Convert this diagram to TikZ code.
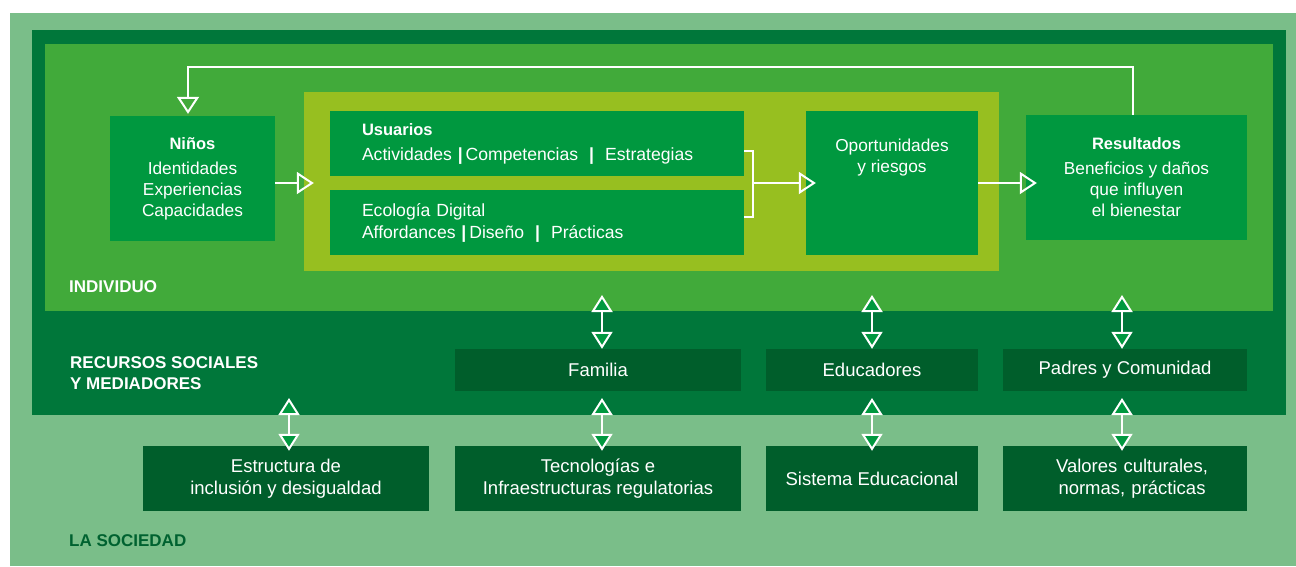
\documentclass[tikz,border=0pt]{standalone}
\usepackage{fontspec}
\setmainfont{Liberation Sans}
\usetikzlibrary{arrows.meta}
\definecolor{bgsoc}{HTML}{7ABE89}
\definecolor{dkgreen}{HTML}{00773A}
\definecolor{mdgreen}{HTML}{41AA3A}
\definecolor{ylgreen}{HTML}{97BF20}
\definecolor{boxgreen}{HTML}{00983F}
\definecolor{dkbox}{HTML}{005E2B}
\definecolor{socdk}{HTML}{006230}
\tikzset{
  region/.style={rectangle, inner sep=0pt, draw=none},
  box/.style={rectangle, fill=boxgreen, inner sep=0pt, text=white, align=center,
    font=\fontsize{17.3}{21}\selectfont},
  leftbox/.style={box, align=left, inner xsep=32pt, font=\fontsize{17.6}{21}\selectfont},
  dbox/.style={rectangle, fill=dkbox, inner sep=0pt, text=white, align=center,
    font=\fontsize{18.5}{21.5}\selectfont},
  lab/.style={anchor=west, align=left, inner sep=0pt, text=white,
    font=\bfseries\fontsize{17}{21}\selectfont},
  txt/.style={align=center, inner sep=0pt, text=white, font=\fontsize{17.3}{21}\selectfont},
  wline/.style={draw=white, line width=2pt},
  flow/.style={wline, -{Triangle[open, width=22pt, length=17pt]}},
  dbl/.style={wline, {Triangle[width=21pt, length=17pt, fill=boxgreen]}-{Triangle[width=21pt, length=17pt, fill=boxgreen]}}
}
\newcommand{\pipe}{\textbf{|}}
\newcommand{\hdr}{\bfseries\fontsize{16.5}{21}\selectfont}
\begin{document}
\begin{tikzpicture}[x=1pt, y=-1pt]
\useasboundingbox (0,0) rectangle (1296,566);
\fill[white] (0,0) rectangle (1296,566);
% regions
\fill[bgsoc] (10,13) rectangle (1296,566);
\fill[dkgreen] (32,30) rectangle (1286,415);
\fill[mdgreen] (45,44) rectangle (1273,311);
\node[region, fill=ylgreen, minimum width=695pt, minimum height=179pt] (yl) at (651.5,181.5) {};

% top boxes
\node[box, minimum width=165pt, minimum height=125pt] (ninos) at (192.5,178.5)
  {{\hdr Niños}\\[4pt]Identidades\\Experiencias\\Capacidades};
\node[leftbox, text width=350pt, minimum height=65pt] (usu) at (537,143.5)
  {{\hdr Usuarios}\\[4pt]Actividades \pipe\,Competencias\hspace{11pt}\pipe\hspace{11pt}Estrategias};
\node[leftbox, text width=350pt, minimum height=65pt] (eco) at (537,222.5)
  {Ecología Digital\\[1pt]Affordances \pipe\,Diseño\hspace{11pt}\pipe\hspace{11pt}Prácticas};
\node[box, minimum width=172pt, minimum height=144pt] (opp) at (892,183) {};
\node[txt] (opptxt) at (892,157.5) {Oportunidades\\y riesgos};
\node[box, minimum width=221pt, minimum height=125pt] (res) at (1136.5,177.5)
  {{\hdr Resultados}\\[4pt]Beneficios y daños\\que influyen\\el bienestar};

% middle boxes
\node[dbox, minimum width=286pt, minimum height=42pt] (fam) at (598,370) {Familia};
\node[dbox, minimum width=212pt, minimum height=42pt] (edu) at (872,370) {Educadores};
\node[dbox, minimum width=244pt, minimum height=42pt] (pad) at (1125,370) {Padres y Comunidad};

% bottom boxes
\node[dbox, minimum width=286pt, minimum height=65pt] (est) at (286,478.5) {Estructura de\\inclusión y desigualdad};
\node[dbox, minimum width=286pt, minimum height=65pt] (tec) at (598,478.5) {Tecnologías e\\Infraestructuras regulatorias};
\node[dbox, minimum width=212pt, minimum height=65pt] (sis) at (872,478.5) {Sistema Educacional};
\node[dbox, minimum width=244pt, minimum height=65pt, text width=244pt] (val) at (1125,478.5) {\hspace*{14pt}Valores culturales,\\\hspace*{14pt}normas, prácticas};

% labels
\node[lab] (lind) at (69,287) {INDIVIDUO};
\node[lab] (lrec) at (70,373.5) {RECURSOS SOCIALES\\Y MEDIADORES};
\node[lab, text=socdk] (lsoc) at (69,541) {LA SOCIEDAD};

% flow connectors
\coordinate (mid) at (0,183);
\draw[flow, shorten >=-10pt] (ninos.east |- mid) -- (yl.west |- mid);
\coordinate (bt) at (753,151);
\coordinate (bb) at (753,217);
\coordinate (bm) at (753,183);
\draw[wline] (usu.east |- bt) -- (bt) -- (bb) -- (eco.east |- bb);
\draw[flow, shorten >=-10pt] (bm) -- (opp.west |- bm);
\draw[flow, shorten >=-11pt] (opp.east) -- (res.west |- opp.east);
\coordinate (fb1) at (1133,67);
\coordinate (fb2) at (188,67);
\draw[flow, shorten >=2pt] (fb1 |- res.north) -- (fb1) -- (fb2) -- (fb2 |- ninos.north);

% double arrows
\coordinate (a1) at (602,295);
\coordinate (a2) at (872,295);
\coordinate (a3) at (1122,295);
\draw[dbl] (a1) -- (a1 |- fam.north);
\draw[dbl] (a2) -- (a2 |- edu.north);
\draw[dbl] (a3) -- (a3 |- pad.north);
\coordinate (b0) at (289,398);
\coordinate (b1) at (602,398);
\coordinate (b2) at (872,398);
\coordinate (b3) at (1122,398);
\draw[dbl, shorten >=-5pt] (b0) -- (b0 |- est.north);
\draw[dbl, shorten >=-5pt] (b1) -- (b1 |- tec.north);
\draw[dbl, shorten >=-5pt] (b2) -- (b2 |- sis.north);
\draw[dbl, shorten >=-5pt] (b3) -- (b3 |- val.north);
\end{tikzpicture}
\end{document}
